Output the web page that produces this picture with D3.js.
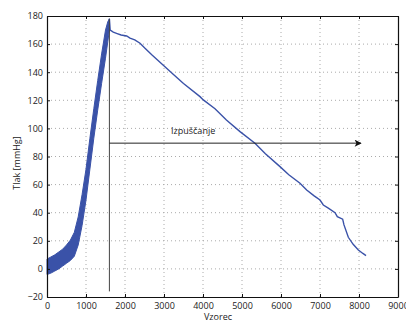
<!DOCTYPE html>
<html><head><meta charset="utf-8">
<script src="https://cdn.jsdelivr.net/npm/d3@7"></script>
<style>body{margin:0;background:#fff}svg{display:block}text{font-family:"Open Sans","Noto Sans",sans-serif;fill:#222}</style>
</head><body><svg id="c" width="406" height="322"></svg>
<script>
// Inflation phase: oscillating band (lower/upper envelope)
const inflX  = [0, 100, 200, 300, 400, 500, 600, 700, 800, 900, 1000, 1100, 1200, 1300, 1400, 1500, 1560, 1600];
const inflLo = [-4, -3, -1.5, 0, 2, 4, 6, 9, 17, 31, 49, 71, 93, 113, 132, 150, 162, 170];
const inflHi = [7, 8.5, 10, 12, 14, 17, 20.5, 26, 37, 53, 71, 93, 114, 134, 153, 170, 176, 178];
// Deflation phase
const deflX = [1600, 1620, 1700, 1800, 1900, 2043, 2128, 2250, 2385, 2513, 2700, 2982, 3200, 3500, 3923, 4008, 4308, 4600, 4949, 5333, 5600, 5974, 6200, 6487, 6658, 6850, 7000, 7085, 7213, 7385, 7444, 7581, 7615, 7726, 7850, 7983, 8100, 8180];
const deflY = [178, 170, 168.5, 167.5, 166.5, 165.8, 164.2, 163, 160.6, 157, 152, 145, 139.5, 132, 122.6, 120.3, 114, 106, 97.7, 89.4, 82, 72.8, 67, 61, 56.2, 52, 49, 45.5, 43.2, 40, 37.2, 35.4, 31.3, 22.5, 17.5, 13.5, 11, 9.5];
const xTicks = [0, 1000, 2000, 3000, 4000, 5000, 6000, 7000, 8000, 9000];
const yTicks = [-20, 0, 20, 40, 60, 80, 100, 120, 140, 160, 180];
const markerX = 1600, markerY0 = -16, markerY1 = 178;
const arrowX0 = 1600, arrowX1 = 8050, arrowY = 89.5;
const arrowLabel = "Izpuščanje", arrowLabelX = 3180;

const svg = d3.select("#c");
const L = 47, R = 398, T = 16, B = 297;
const x = d3.scaleLinear().domain([0, 9000]).range([L, R]);
const y = d3.scaleLinear().domain([-20, 180]).range([B, T]);
const col = "#3a52a8";

// grid
const g = svg.append("g");
g.selectAll(".gx").data(xTicks.slice(1, -1)).join("line")
  .attr("x1", d => x(d)).attr("x2", d => x(d)).attr("y1", T).attr("y2", B)
  .attr("stroke", "#aaa").attr("stroke-width", 1).attr("stroke-dasharray", "1,3");
g.selectAll(".gy").data(yTicks.slice(1, -1)).join("line")
  .attr("y1", d => y(d)).attr("y2", d => y(d)).attr("x1", L).attr("x2", R)
  .attr("stroke", "#aaa").attr("stroke-width", 1).attr("stroke-dasharray", "1,3");

// inflation band
const band = inflX.map((v, i) => ({x: v, lo: inflLo[i], hi: inflHi[i]}));
svg.append("path").datum(band)
  .attr("d", d3.area().x(d => x(d.x)).y0(d => y(d.lo)).y1(d => y(d.hi)))
  .attr("fill", col).attr("stroke", col).attr("stroke-width", 1);

// deflation line
svg.append("path").datum(deflX.map((v, i) => [v, deflY[i]]))
  .attr("d", d3.line().x(d => x(d[0])).y(d => y(d[1])))
  .attr("fill", "none").attr("stroke", col).attr("stroke-width", 1.4);

// marker line
svg.append("line").attr("x1", x(markerX)).attr("x2", x(markerX))
  .attr("y1", y(markerY0)).attr("y2", y(markerY1)).attr("stroke", "#444").attr("stroke-width", 1);

// arrow
svg.append("defs").append("marker").attr("id", "ah").attr("viewBox", "0 0 10 10")
  .attr("refX", 9).attr("refY", 5).attr("markerWidth", 10).attr("markerHeight", 7)
  .attr("markerUnits", "userSpaceOnUse").attr("orient", "auto")
  .append("path").attr("d", "M0,0 L10,5 L0,10 L2.5,5 Z").attr("fill", "#111");
svg.append("line").attr("x1", x(arrowX0)).attr("x2", x(arrowX1))
  .attr("y1", y(arrowY)).attr("y2", y(arrowY)).attr("stroke", "#222").attr("stroke-width", 1)
  .attr("marker-end", "url(#ah)");
svg.append("text").attr("x", x(arrowLabelX)).attr("y", y(arrowY) - 9)
  .attr("font-size", 9).text(arrowLabel);

// axes (box with inward ticks)
const ax = svg.append("g").attr("transform", `translate(0,${B})`)
  .call(d3.axisBottom(x).tickValues(xTicks).tickSizeInner(-3).tickSizeOuter(0).tickPadding(6).tickFormat(d3.format("d")));
const ay = svg.append("g").attr("transform", `translate(${L},0)`)
  .call(d3.axisLeft(y).tickValues(yTicks).tickSizeInner(-3).tickSizeOuter(0).tickPadding(4).tickFormat(d => d < 0 ? "\u2212" + (-d) : d));
const at = svg.append("g").attr("transform", `translate(0,${T})`)
  .call(d3.axisTop(x).tickValues(xTicks).tickSizeInner(-3).tickSizeOuter(0).tickFormat(""));
const ar = svg.append("g").attr("transform", `translate(${R},0)`)
  .call(d3.axisRight(y).tickValues(yTicks).tickSizeInner(-3).tickSizeOuter(0).tickFormat(""));
[ax, ay, at, ar].forEach(a => {
  a.select(".domain").attr("stroke", "#111").attr("stroke-width", 1.2);
  a.selectAll(".tick line").attr("stroke", "#111");
  a.selectAll("text").attr("font-size", 9).attr("fill", "#222")
    .attr("font-family", '"Open Sans","Noto Sans",sans-serif');
});

svg.append("text").attr("x", 218).attr("y", 320).attr("text-anchor", "middle")
  .attr("font-size", 9).text("Vzorec");
svg.append("text").attr("transform", "translate(20,163) rotate(-90)").attr("text-anchor", "middle")
  .attr("font-size", 9).text("Tlak [mmHg]");
</script></body></html>
